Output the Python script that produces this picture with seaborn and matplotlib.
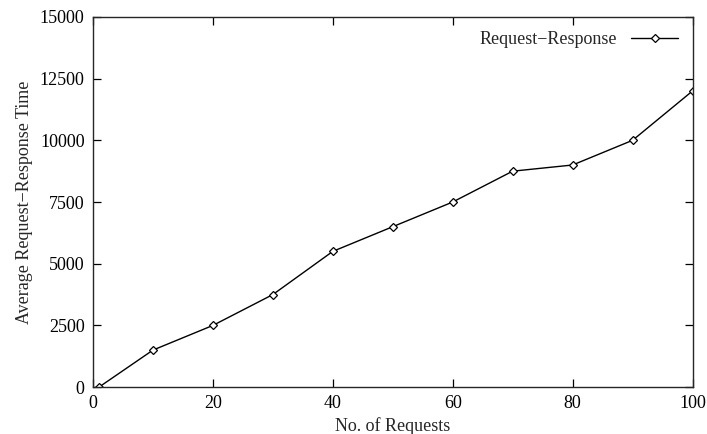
import seaborn as sns
import matplotlib.pyplot as plt
import pandas as pd

# data
requests = [1, 10, 20, 30, 40, 50, 60, 70, 80, 90, 100]
avg_time = [0, 1500, 2500, 3750, 5500, 6500, 7500, 8750, 9000, 10000, 12000]

df = pd.DataFrame({"No. of Requests": requests, "time": avg_time})

sns.set_style("ticks")
plt.rcParams["font.family"] = ["Liberation Serif", "DejaVu Serif"]

fig = plt.figure(figsize=(7.07, 4.34), dpi=100)
ax = fig.add_axes([0.1315, 0.108, 0.848, 0.853])

sns.lineplot(data=df, x="No. of Requests", y="time", ax=ax, color="black",
             linewidth=1, marker="D", markersize=4.2, markerfacecolor="white",
             markeredgecolor="black", markeredgewidth=0.9,
             label="Request\u2212Response")

ax.set_xlim(0, 100)
ax.set_ylim(0, 15000)
ax.set_xticks(range(0, 101, 20))
ax.set_yticks(range(0, 15001, 2500))
ax.tick_params(direction="in", length=6, width=0.9, labelsize=13,
               top=True, right=True, pad=6, colors="black")
for s in ax.spines.values():
    s.set_linewidth(1)
ax.set_xlabel("No. of Requests", fontsize=13, labelpad=3)
ax.set_ylabel("Average Request\u2212Response Time", fontsize=13, labelpad=5)

leg = ax.legend(loc="upper right", frameon=False, fontsize=13, markerfirst=False,
                handlelength=2.6, borderaxespad=0.4)

fig.savefig("out.png", dpi=100)
